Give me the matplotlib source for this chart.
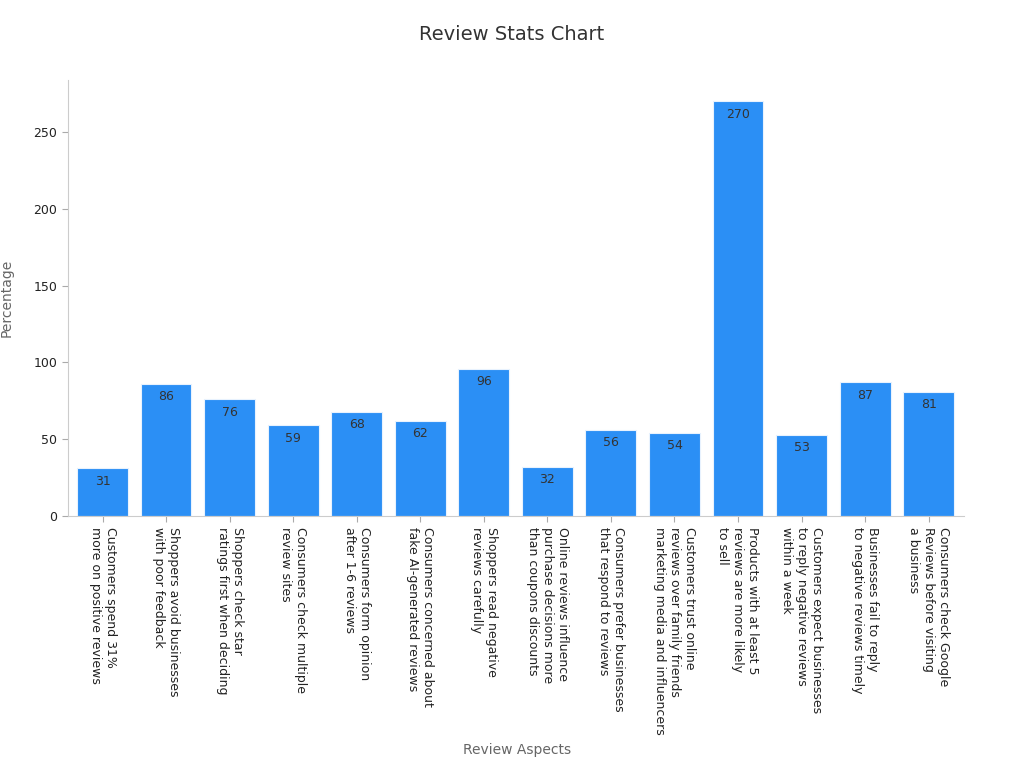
import matplotlib
matplotlib.use("Agg")
import matplotlib.pyplot as plt

categories = [
    "Customers spend 31%\nmore on positive reviews",
    "Shoppers avoid businesses\nwith poor feedback",
    "Shoppers check star\nratings first when deciding",
    "Consumers check multiple\nreview sites",
    "Consumers form opinion\nafter 1-6 reviews",
    "Consumers concerned about\nfake AI-generated reviews",
    "Shoppers read negative\nreviews carefully",
    "Online reviews influence\npurchase decisions more\nthan coupons discounts",
    "Consumers prefer businesses\nthat respond to reviews",
    "Customers trust online\nreviews over family friends\nmarketing media and influencers",
    "Products with at least 5\nreviews are more likely\nto sell",
    "Customers expect businesses\nto reply negative reviews\nwithin a week",
    "Businesses fail to reply\nto negative reviews timely",
    "Consumers check Google\nReviews before visiting\na business",
]
values = [31, 86, 76, 59, 68, 62, 96, 32, 56, 54, 270, 53, 87, 81]

fig = plt.figure(figsize=(10.24, 7.68), dpi=100)
ax = fig.add_axes([0.066, 0.328, 0.875, 0.568])
x = range(len(values))
bars = ax.bar(x, values, width=0.8, color="#2b8ff5", edgecolor="#e8f2fe", linewidth=0.8)
for xi, v in zip(x, values):
    ax.text(xi, v - 4, str(v), ha="center", va="top", fontsize=9, color="#333333")
ax.set_xlim(-0.55, len(values) - 0.45)
ax.set_ylim(0, 284)
ax.set_yticks([0, 50, 100, 150, 200, 250])
ax.set_xticks(list(x))
ax.set_xticklabels(categories, rotation=-90, ha="center", va="top", fontsize=9,
                   color="#222222", rotation_mode="default")
for lab in ax.get_xticklabels():
    lab.set_multialignment("left")
ax.tick_params(axis="y", labelsize=9, colors="#222222", length=4, color="#aaaaaa")
ax.tick_params(axis="x", length=4, color="#aaaaaa")
for s in ["top", "right"]:
    ax.spines[s].set_visible(False)
for s in ["left", "bottom"]:
    ax.spines[s].set_color("#cccccc")
ax.set_ylabel("Percentage", fontsize=10, color="#666666", labelpad=14)
fig.text(0.505, 0.018, "Review Aspects", ha="center", fontsize=10, color="#666666")
fig.text(0.5, 0.955, "Review Stats Chart", ha="center", va="center", fontsize=14, color="#333333")
fig.savefig("out.png", dpi=100)
